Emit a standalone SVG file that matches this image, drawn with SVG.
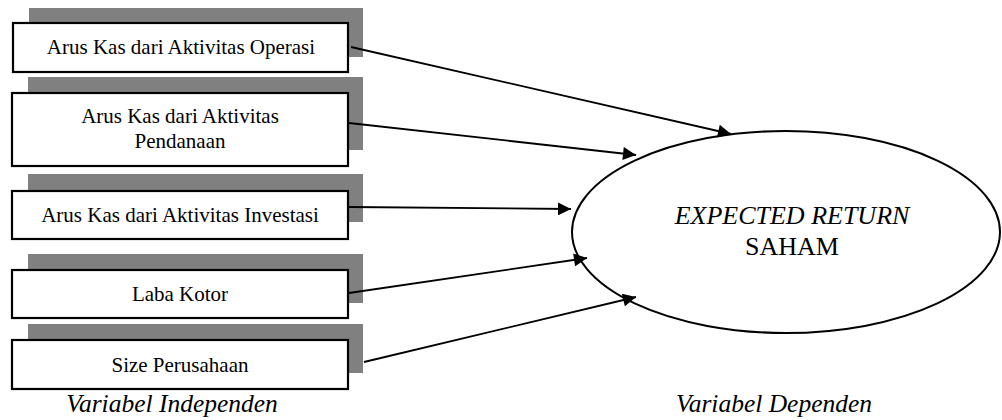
<svg xmlns="http://www.w3.org/2000/svg" width="1002" height="420" viewBox="0 0 1002 420" font-family="'Liberation Serif', 'Times New Roman', Times, serif">
<style>
text{font-family:'Liberation Serif','Times New Roman',Times,serif}
.shadow{fill:#808080;stroke:none}
.box{fill:#ffffff;stroke:#000000;stroke-width:2.2}
.t{font-size:21px;fill:#000;text-anchor:middle}
.lbl{font-size:25.5px;font-style:italic;fill:#000;text-anchor:middle}
.et{font-size:26px;fill:#000;text-anchor:middle}
.conn{stroke:#000;stroke-width:1.8;fill:none;marker-end:url(#ah)}
</style>
<defs>
<marker id="ah" viewBox="0 0 10 10" refX="10" refY="5" markerWidth="15" markerHeight="13" markerUnits="userSpaceOnUse" orient="auto">
<path d="M0,0 L10,5 L0,10 Z" fill="#000"/>
</marker>
</defs>
<rect width="1002" height="420" fill="#ffffff"/>
<g id="node-operasi">
<rect class="shadow" x="29" y="8" width="334" height="49"/>
<rect class="box" x="13" y="23" width="335" height="49"/>
<text class="t" x="181" y="54">Arus Kas dari Aktivitas Operasi</text>
</g>
<g id="node-pendanaan">
<rect class="shadow" x="28" y="77" width="335" height="73"/>
<rect class="box" x="12" y="93" width="336" height="73"/>
<text class="t" x="180" y="123">Arus Kas dari Aktivitas</text>
<text class="t" x="180" y="148">Pendanaan</text>
</g>
<g id="node-investasi">
<rect class="shadow" x="28" y="174" width="335" height="48"/>
<rect class="box" x="12" y="191" width="336" height="48"/>
<text class="t" x="180" y="222">Arus Kas dari Aktivitas Investasi</text>
</g>
<g id="node-laba">
<rect class="shadow" x="28" y="254" width="335" height="49"/>
<rect class="box" x="12" y="270" width="336" height="48"/>
<text class="t" x="180" y="301">Laba Kotor</text>
</g>
<g id="node-size">
<rect class="shadow" x="28" y="324" width="335" height="49"/>
<rect class="box" x="12" y="340" width="336" height="49"/>
<text class="t" x="180" y="372">Size Perusahaan</text>
</g>
<g id="node-expected">
<ellipse cx="786" cy="232" rx="214" ry="101" fill="#ffffff" stroke="#000" stroke-width="2"/>
<text class="et" x="792" y="224" font-style="italic">EXPECTED RETURN</text>
<text class="et" x="792" y="255">SAHAM</text>
</g>
<g id="connectors">
<line class="conn" x1="351" y1="47" x2="731" y2="134"/>
<line class="conn" x1="349" y1="123" x2="636" y2="155"/>
<line class="conn" x1="349" y1="207" x2="571" y2="209"/>
<line class="conn" x1="349" y1="293" x2="587" y2="258"/>
<line class="conn" x1="364" y1="362" x2="636" y2="297"/>
</g>
<g id="labels">
<text class="lbl" x="172" y="412">Variabel Independen</text>
<text class="lbl" x="774" y="412">Variabel Dependen</text>
</g>
</svg>
